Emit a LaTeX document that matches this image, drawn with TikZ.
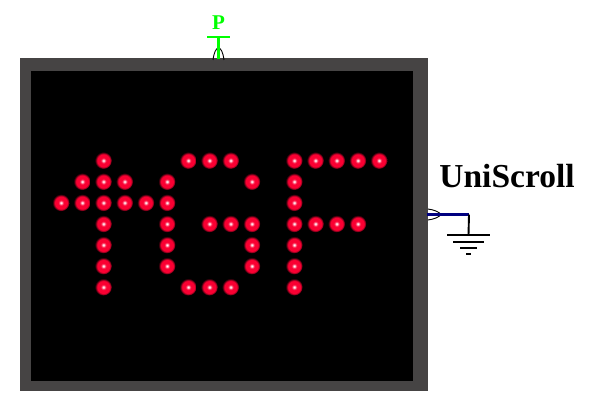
\documentclass[tikz,border=0pt]{standalone}
\usepackage{fontspec}
\setmainfont{Liberation Serif}
\usepackage{xcolor}
\definecolor{framegray}{RGB}{70,68,68}
\definecolor{pingreen}{RGB}{0,255,0}
\definecolor{wirenavy}{RGB}{0,0,128}
\definecolor{ledred}{RGB}{250,0,50}
\pgfdeclareradialshading{ledglow}{\pgfpointorigin}{
  color(0pt)=(white);
  color(1.5pt)=(white);
  color(5pt)=(ledred!70!white);
  color(9pt)=(ledred);
  color(18pt)=(ledred);
  color(22pt)=(ledred!55!black);
  color(25pt)=(black);
  color(50pt)=(black)
}
\tikzset{
  led/.style = {circle, inner sep=0pt, minimum size=17pt, shading=ledglow},
  pin/.style = {line width=0.9pt, black},
  gnd/.style = {line width=1.9pt, black},
}

\begin{document}
\begin{tikzpicture}[x=1pt, y=-1pt]
  \useasboundingbox (0,0) rectangle (604,393);
  % case and screen
  \node (case) [fill=framegray, inner sep=0pt, minimum width=408pt, minimum height=333pt, anchor=north west] at (20,58) {};
  \node (screen) [fill=black, inner sep=0pt, minimum width=382pt, minimum height=310pt, anchor=north west] at (30.5,71) {};
  % LEDs, column/row
  \foreach \col/\row in {
    2/0, 6/0, 7/0, 8/0, 11/0, 12/0, 13/0, 14/0, 15/0,
    1/1, 2/1, 3/1, 5/1, 9/1, 11/1,
    0/2, 1/2, 2/2, 3/2, 4/2, 5/2, 11/2,
    2/3, 5/3, 7/3, 8/3, 9/3, 11/3, 12/3, 13/3, 14/3,
    2/4, 5/4, 9/4, 11/4,
    2/5, 5/5, 9/5, 11/5,
    2/6, 6/6, 7/6, 8/6, 11/6}
    \node (led\col-\row) [led] at ({61+21.2*\col},{160.5+21.1*\row}) {};
  % power pin
  \node (plabel) [text=pingreen, font=\bfseries\fontsize{21}{21}\selectfont, inner sep=0pt] at (218.5,23) {P};
  \coordinate (pleft) at (207,37);
  \coordinate (pright) at (230,37);
  \coordinate (ptop) at (218.5,37);
  \coordinate (pbase) at (218.5,59);
  \draw [pin] (213,60) .. controls (215,44) and (222,44) .. (224,60);
  \draw [pingreen, line width=2.2pt] (pleft) -- (pright);
  \draw [pingreen, line width=2.2pt] (ptop) -- (pbase);
  % ground pin
  \node (uni) [font=\bfseries\fontsize{33.5}{33.5}\selectfont, inner sep=0pt] at (507,176) {UniScroll};
  \coordinate (gstart) at (427,214.5);
  \coordinate (gcorner) at (469,214.5);
  \coordinate (gnode) at (468.5,235);
  \draw [pin] (428,209) .. controls (435,210) and (439,212) .. (441,214.5) .. controls (439,217) and (435,219) .. (428,220);
  \draw [wirenavy, line width=2.2pt] (gstart) -- (gcorner);
  \draw [gnd] (gcorner) -- (gnode);
  \draw [gnd] (447,235) -- (490,235);
  \draw [line width=2.4pt] (453,242) -- (484,242);
  \draw [line width=2.4pt] (460,248) -- (477,248);
  \draw [line width=2.4pt] (466,254) -- (471,254);
\end{tikzpicture}
\end{document}
